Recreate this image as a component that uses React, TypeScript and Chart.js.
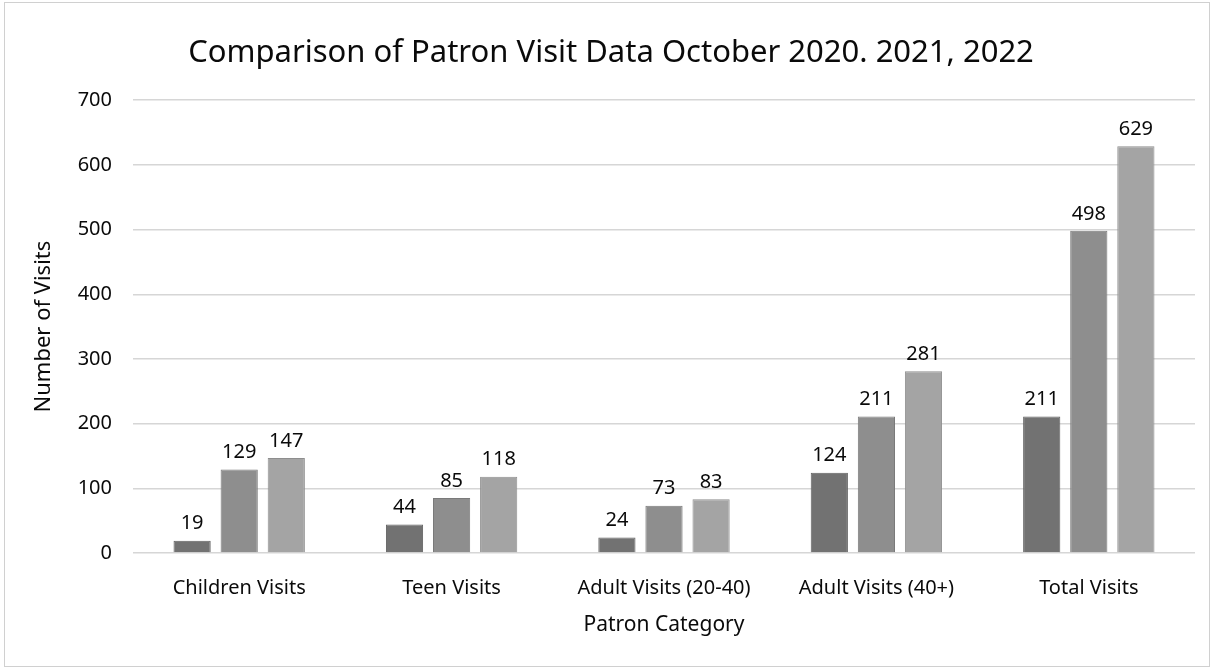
import React, { useEffect, useRef } from "react";
import { Chart, registerables } from "chart.js";

Chart.register(...registerables);

const categories = ["Children Visits", "Teen Visits", "Adult Visits (20-40)", "Adult Visits (40+)", "Total Visits"];
const series2020 = [19, 44, 24, 124, 211];
const series2021 = [129, 85, 73, 211, 498];
const series2022 = [147, 118, 83, 281, 629];
const seriesNames = ["October 2020", "October 2021", "October 2022"];
const yTicks = [0, 100, 200, 300, 400, 500, 600, 700];

const FONT = "'Noto Sans', Lato, sans-serif";
const TEXT = "#0a0a0a";

const labelPlugin = {
  id: "barLabels",
  afterDatasetsDraw(chart: any) {
    const ctx = chart.ctx;
    ctx.save();
    ctx.font = `20px ${FONT}`;
    ctx.fillStyle = TEXT;
    ctx.textAlign = "center";
    ctx.textBaseline = "bottom";
    chart.data.datasets.forEach((ds: any, i: number) => {
      const meta = chart.getDatasetMeta(i);
      meta.data.forEach((bar: any, j: number) => {
        ctx.fillText(String(ds.data[j]), bar.x, bar.y - 7);
      });
    });
    ctx.restore();
  },
};

export default function App() {
  const ref = useRef<HTMLCanvasElement>(null);
  useEffect(() => {
    document.body.style.margin = "0";
    const chart = new Chart(ref.current!, {
      type: "bar",
      data: {
        labels: categories,
        datasets: [
          { label: seriesNames[0], data: series2020, backgroundColor: "#727272", borderColor: "#606060", borderWidth: 1 },
          { label: seriesNames[1], data: series2021, backgroundColor: "#8e8e8e", borderColor: "#7a7a7a", borderWidth: 1 },
          { label: seriesNames[2], data: series2022, backgroundColor: "#a4a4a4", borderColor: "#8e8e8e", borderWidth: 1 },
        ],
      },
      options: {
        animation: false,
        responsive: false,
        layout: { padding: { left: 27, right: 18, top: 10, bottom: 28 } },
        datasets: { bar: { categoryPercentage: 0.665, barPercentage: 0.79 } },
        plugins: {
          legend: { display: false },
          tooltip: { enabled: false },
          title: {
            display: true,
            text: "Comparison of Patron Visit Data October 2020. 2021, 2022",
            font: { family: FONT, size: 31, weight: "normal" },
            color: TEXT,
            padding: { top: 25, bottom: 28 },
          },
        },
        scales: {
          x: {
            grid: { display: false },
            border: { display: false },
            ticks: { font: { family: FONT, size: 20 }, color: TEXT, padding: 15 },
            title: { display: true, text: "Patron Category", font: { family: FONT, size: 21 }, color: TEXT, padding: { top: 4, bottom: 4 } },
            afterFit: (scale: any) => {
              scale.height = 89;
            },
          },
          y: {
            min: 0,
            max: 700,
            afterBuildTicks: (axis: any) => {
              axis.ticks = yTicks.map((v) => ({ value: v }));
            },
            afterFit: (scale: any) => {
              scale.width = 106;
            },
            grid: { color: "#d6d6d6", lineWidth: 1.5, drawTicks: false },
            border: { display: false },
            ticks: { font: { family: FONT, size: 20 }, color: TEXT, padding: 21 },
            title: { display: true, text: "Number of Visits", font: { family: FONT, size: 22 }, color: TEXT, padding: { top: 4, bottom: 4 } },
          },
        },
      },
      plugins: [labelPlugin],
    });
    return () => chart.destroy();
  }, []);
  return (
    <div style={{ position: "relative", width: 1213, height: 670, background: "#fff" }}>
      <canvas ref={ref} width={1213} height={670} style={{ position: "absolute", left: 0, top: 0 }} />
      <div style={{ position: "absolute", left: 4, top: 2, width: 1204, height: 663, border: "1.5px solid #d0d0d0", pointerEvents: "none" }} />
    </div>
  );
}
